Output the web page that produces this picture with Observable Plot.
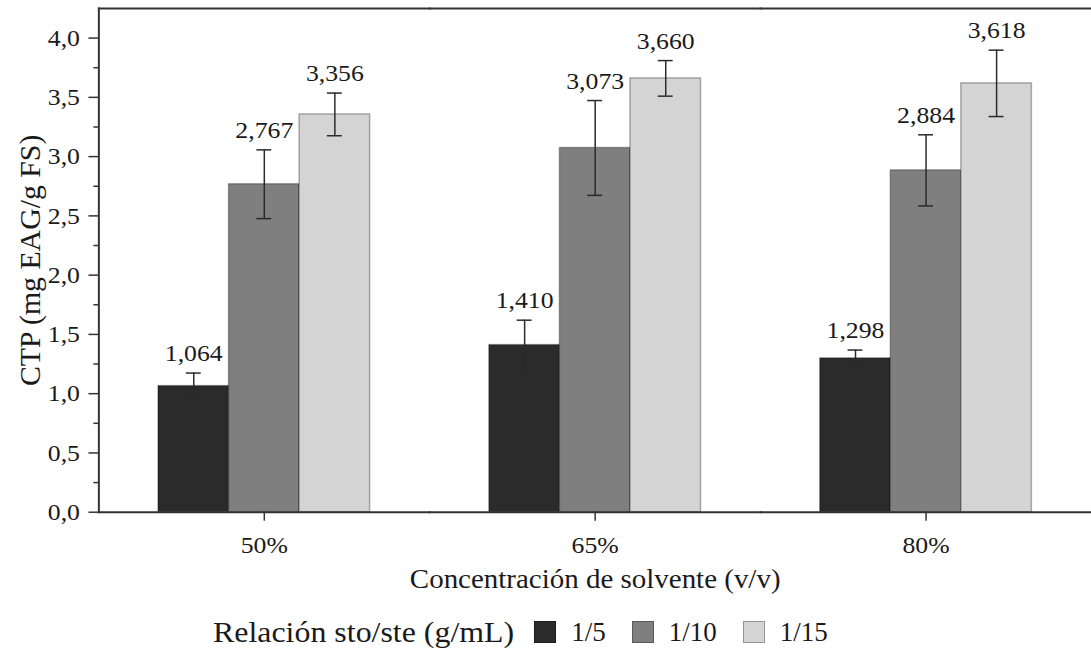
<!DOCTYPE html>
<html>
<head>
<meta charset="utf-8">
<script src="https://cdn.jsdelivr.net/npm/d3@7"></script>
<script src="https://cdn.jsdelivr.net/npm/@observablehq/plot@0.6"></script>
<style>
  html, body { margin: 0; padding: 0; overflow: hidden; background: #fff; }
  #chart { position: relative; width: 1091px; height: 654px; overflow: hidden;
           font-family: "Liberation Serif", "Times New Roman", serif; color: #1a1a1a; }
  #chart svg { display: block; }
  #legend { display: flex; align-items: center; height: 36px; margin-top: 18px;
            padding-left: 213px; font-size: 29px; white-space: nowrap; }
  #legend .sw { width: 22px; height: 22px; box-sizing: border-box;
                border: 1.5px solid rgba(0, 0, 0, 0.3); margin: 0 15px 0 26px; }
  #legend .sw.first { margin-left: 20px; }
  #legend .wide { display: inline-block; transform-origin: 0 50%; }
  #legend .key { font-size: 27px; }
  g[aria-label="y-axis label"] text { font-size: 30px; }
  g[aria-label="fx-axis label"] text { font-size: 27px; }
</style>
</head>
<body>
<div id="chart"></div>
<script>
// Solvent concentrations (groups) and solid/solvent ratios (series)
const concentrations = ["50%", "65%", "80%"];
const ratios = ["1/5", "1/10", "1/15"];
const ratioColors = ["#2b2b2b", "#7f7f7f", "#d4d4d4"];

// Total phenolic content per concentration, one value per ratio
const ctp50 = [1.064, 2.767, 3.356];
const ctp65 = [1.410, 3.073, 3.660];
const ctp80 = [1.298, 2.884, 3.618];

// Standard deviations (error bar half-lengths)
const err50 = [0.11, 0.29, 0.18];
const err65 = [0.21, 0.40, 0.15];
const err80 = [0.07, 0.30, 0.28];

// Axis ticks and texts
const yTicks = [0, 0.5, 1, 1.5, 2, 2.5, 3, 3.5, 4];
const yMinorTicks = [0.25, 0.75, 1.25, 1.75, 2.25, 2.75, 3.25, 3.75];
const yLabel = "CTP (mg EAG/g FS)";
const xLabel = "Concentración de solvente (v/v)";
const legendTitle = "Relación sto/ste (g/mL)";

const values = [ctp50, ctp65, ctp80];
const errors = [err50, err65, err80];
const rows = concentrations.flatMap((conc, i) =>
  ratios.map((ratio, j) => ({ conc, ratio, value: values[i][j], err: errors[i][j] }))
);

const decimalComma = (digits) => (d) => d3.format(`.${digits}f`)(d).replace(".", ",");
const axisColor = "#333";
const textColor = "#1a1a1a";
const textStretch = 1.08;
const legendStretch = 1.1;

const plot = Plot.plot({
  width: 1098,
  height: 600,
  marginLeft: 99,
  marginRight: 0,
  marginTop: 8,
  marginBottom: 85,
  style: { fontFamily: "'Liberation Serif', 'Times New Roman', serif", color: textColor, background: "transparent" },
  fx: { domain: concentrations, padding: 0 },
  x: { domain: ratios, paddingInner: 0, paddingOuter: 0.829, axis: null },
  y: { domain: [0, 4.25] },
  color: { domain: ratios, range: ratioColors },
  marks: [
    Plot.barY(rows, {
      fx: "conc", x: "ratio", y: "value", fill: "ratio",
      stroke: "#000", strokeOpacity: 0.3, strokeWidth: 1.5
    }),
    Plot.ruleX(rows, {
      fx: "conc", x: "ratio",
      y1: (d) => d.value - d.err, y2: (d) => d.value + d.err,
      stroke: "#2a2a2a", strokeWidth: 1.5
    }),
    Plot.tickY(rows, {
      fx: "conc", x: "ratio", y: (d) => d.value - d.err,
      insetLeft: 28, insetRight: 28, stroke: "#2a2a2a", strokeWidth: 1.5
    }),
    Plot.tickY(rows, {
      fx: "conc", x: "ratio", y: (d) => d.value + d.err,
      insetLeft: 28, insetRight: 28, stroke: "#2a2a2a", strokeWidth: 1.5
    }),
    Plot.text(rows, {
      fx: "conc", x: "ratio", y: (d) => d.value + d.err,
      text: (d) => decimalComma(3)(d.value),
      lineAnchor: "bottom", dy: -12, fontSize: 24, fill: textColor
    }),
    Plot.frame({ anchor: "top", stroke: axisColor, strokeWidth: 2 }),
    Plot.frame({ anchor: "bottom", stroke: axisColor, strokeWidth: 2 }),
    Plot.frame({ anchor: "left", facetAnchor: "left", stroke: axisColor, strokeWidth: 2 }),
    Plot.axisY({ ticks: yMinorTicks, tickSize: 5, fill: "none", label: null, stroke: axisColor, strokeWidth: 1.5 }),
    Plot.axisY({
      ticks: yTicks, tickSize: 10, tickPadding: 9,
      tickFormat: decimalComma(1),
      label: yLabel, labelAnchor: "center", labelArrow: "none", labelOffset: 81,
      fontSize: 24, stroke: axisColor, strokeWidth: 1.5, fill: textColor
    }),
    Plot.axisFx({
      anchor: "bottom", tickSize: 9, tickPadding: 15,
      label: xLabel, labelAnchor: "center", labelArrow: "none", labelOffset: 76,
      fontSize: 24, stroke: axisColor, strokeWidth: 1.5, fill: textColor
    })
  ]
});

const chart = document.getElementById("chart");
chart.appendChild(plot);

// Widen horizontal texts slightly (the typeface is set a little wide)
plot.querySelectorAll("text").forEach((t) => {
  const label = t.closest("g[aria-label]");
  if (label && label.getAttribute("aria-label") === "y-axis label") return;
  const len = t.getComputedTextLength();
  if (len > 0) {
    t.setAttribute("textLength", len * textStretch);
    t.setAttribute("lengthAdjust", "spacingAndGlyphs");
  }
});

// Legend: title followed by one swatch per ratio
const color = plot.scale("color");
const legend = document.createElement("div");
legend.id = "legend";
const title = document.createElement("span");
title.className = "wide";
title.textContent = legendTitle;
legend.appendChild(title);
ratios.forEach((r, i) => {
  const sw = document.createElement("div");
  sw.className = i === 0 ? "sw first" : "sw";
  sw.style.background = color.apply(r);
  legend.appendChild(sw);
  const key = document.createElement("span");
  key.className = "key";
  key.textContent = r;
  legend.appendChild(key);
});
chart.appendChild(legend);
const titleWidth = title.getBoundingClientRect().width;
title.style.width = `${titleWidth * legendStretch}px`;
title.style.transform = `scaleX(${legendStretch})`;
</script>
</body>
</html>
